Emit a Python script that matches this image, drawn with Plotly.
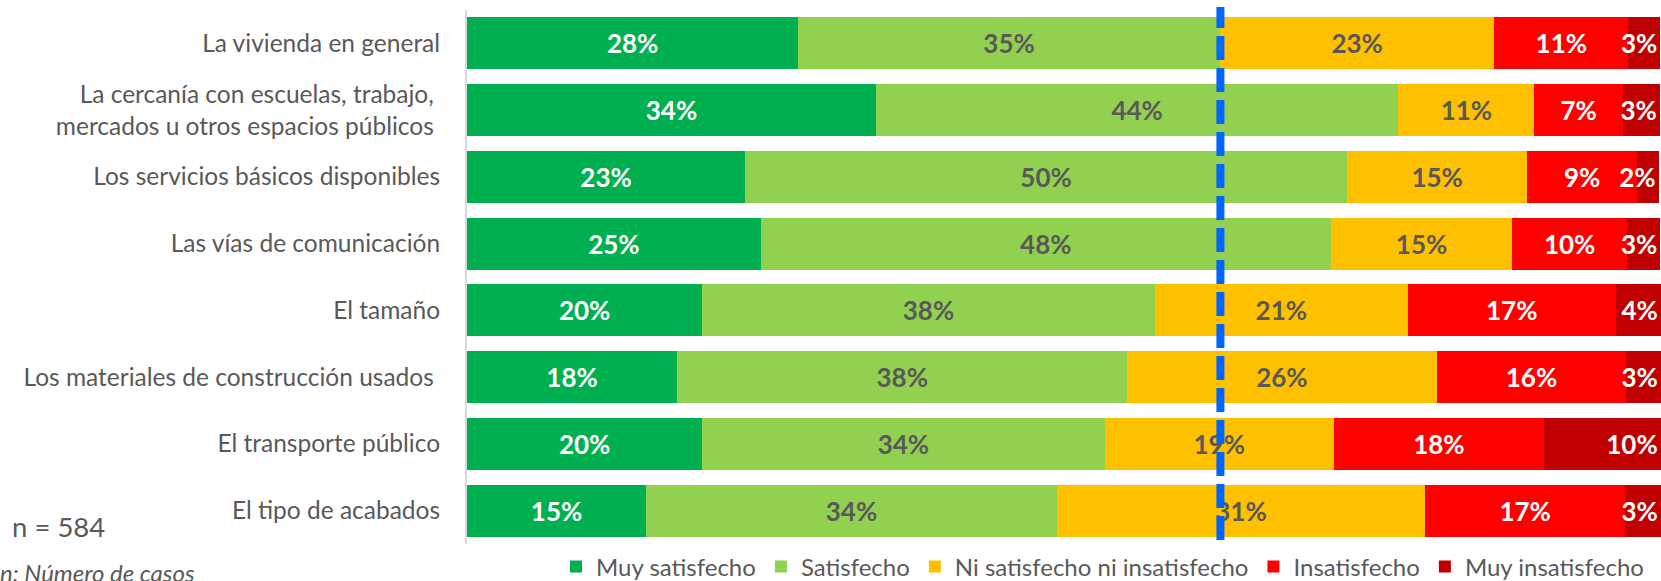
import plotly.graph_objects as go

categories = [
    "La vivienda en general",
    "La cercanía con escuelas, trabajo,\u00a0<br>mercados u otros espacios públicos\u00a0",
    "Los servicios básicos disponibles",
    "Las vías de comunicación",
    "El tamaño",
    "Los materiales de construcción usados\u00a0",
    "El transporte público",
    "El tipo de acabados",
]

series_names = ["Muy satisfecho", "Satisfecho", "Ni satisfecho ni insatisfecho",
                "Insatisfecho", "Muy insatisfecho"]

muy_satisfecho = [27.75, 34.25, 23.3, 24.6, 19.7, 17.6, 19.7, 15.0]
satisfecho = [35.3, 43.75, 50.4, 47.75, 37.9, 37.7, 33.7, 34.4]
ni_ni = [23.0, 11.4, 15.1, 15.2, 21.2, 25.9, 19.2, 30.85]
insatisfecho = [11.2, 7.4, 9.2, 9.6, 17.4, 15.9, 17.6, 16.75]
muy_insatisfecho = [2.7, 3.1, 1.8, 2.8, 3.78, 2.88, 9.78, 2.98]

reference_line = 63.1  # position of the dashed reference line (%)
n_text = "n = 584"
note_text = "n: Número de casos"

colors = ["#00B050", "#92D050", "#FFC000", "#FF0000", "#C00000"]
text_colors = ["#FFFFFF", "#595959", "#595959", "#FFFFFF", "#FFFFFF"]
text_anchors = ["middle", "middle", "middle", "middle", "end"]
values = [muy_satisfecho, satisfecho, ni_ni, insatisfecho, muy_insatisfecho]

FONT = "Lato"
GRAY = "#595959"

fig = go.Figure()
for name, vals, col, tcol, anc in zip(series_names, values, colors, text_colors, text_anchors):
    fig.add_trace(go.Bar(
        y=categories, x=vals, name=name, orientation="h",
        marker=dict(color=col, line=dict(width=0)),
        texttemplate="%{x:.0f}%", textposition="inside", textangle=0,
        insidetextanchor=anc, constraintext="none",
        textfont=dict(family=FONT, size=26, color=tcol, weight="bold"),
        cliponaxis=False,
        hoverinfo="skip",
    ))

W, H = 1661, 581
ML, MR, MT, MB = 467, 0, 10, 37
plot_h = H - MT - MB

def py(p):
    return (H - MB - p) / plot_h

def px(p):
    return (p - ML) / (W - ML - MR)

fig.add_shape(type="line", xref="x", yref="paper",
              x0=reference_line, x1=reference_line, y0=py(540), y1=py(7),
              line=dict(color="#0066FF", width=8, dash="24px,8px"),
              layer="above")

fig.add_annotation(text=n_text, xref="paper", yref="paper", x=px(10), y=py(526),
                   xanchor="left", yanchor="middle", showarrow=False,
                   font=dict(family=FONT, size=27.5, color=GRAY))
fig.add_annotation(text="<i>" + note_text + "</i>", xref="paper", yref="paper",
                   x=px(-2), y=py(556), xanchor="left", yanchor="top", showarrow=False,
                   font=dict(family=FONT, size=24, color=GRAY))

fig.update_layout(
    width=W, height=H,
    margin=dict(l=ML, r=MR, t=MT, b=MB, autoexpand=False),
    barmode="stack", bargap=0.222,
    paper_bgcolor="white", plot_bgcolor="white",
    font=dict(family=FONT, color=GRAY),
    xaxis=dict(range=[0, 100], showgrid=False, zeroline=False, automargin=False,
               showticklabels=False, showline=False, fixedrange=True),
    yaxis=dict(autorange="reversed", showgrid=False, zeroline=False, automargin=False,
               showline=True, linecolor="#D9D9D9", linewidth=2,
               ticks="", ticklabelstandoff=20,
               tickfont=dict(family=FONT, size=24.5, color=GRAY)),
    legend=dict(orientation="h", x=px(556), y=py(567), xanchor="left",
                yanchor="middle", traceorder="normal",
                font=dict(family=FONT, size=24, color=GRAY),
                itemwidth=30, bgcolor="rgba(0,0,0,0)"),
    showlegend=True,
)

fig.write_html(
    "out.html",
    config={"displayModeBar": False},
    post_script="document.body.style.margin='0';document.body.style.overflow='hidden';",
)
